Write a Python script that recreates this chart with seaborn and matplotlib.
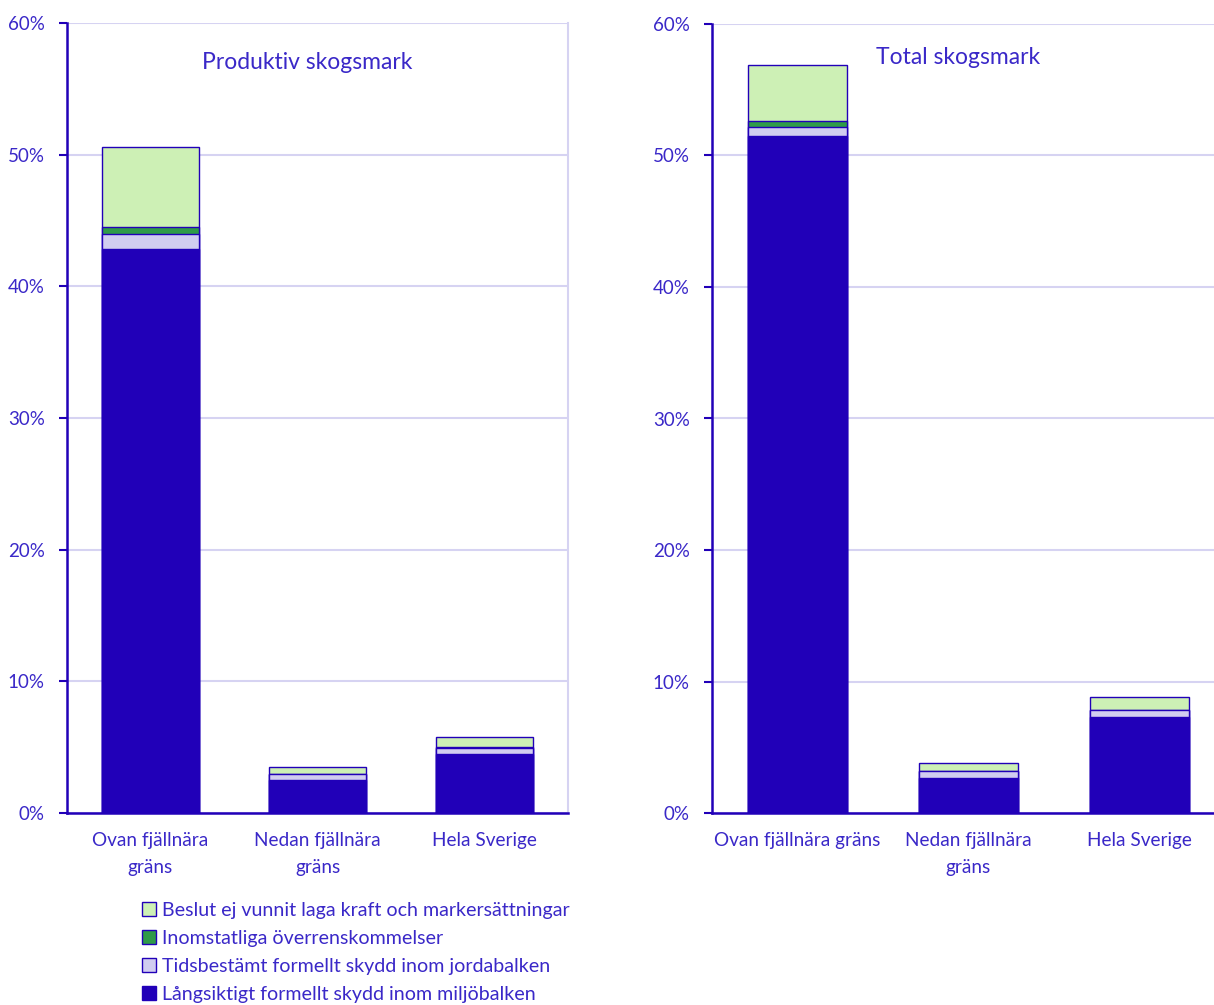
import matplotlib
matplotlib.use("Agg")
import matplotlib.pyplot as plt
import seaborn as sns
import pandas as pd
import numpy as np
from matplotlib.patches import Patch
from matplotlib.ticker import FuncFormatter, FixedLocator

# ---------------- data ----------------
categories = ["Ovan fjällnära gräns", "Nedan fjällnära gräns", "Hela Sverige"]
labels_left = ["Ovan fjällnära\ngräns", "Nedan fjällnära\ngräns", "Hela Sverige"]
labels_right = ["Ovan fjällnära gräns", "Nedan fjällnära\ngräns", "Hela Sverige"]

series_names = [
    "Långsiktigt formellt skydd inom miljöbalken",
    "Tidsbestämt formellt skydd inom jordabalken",
    "Inomstatliga överrenskommelser",
    "Beslut ej vunnit laga kraft och markersättningar",
]

# Produktiv skogsmark (%)
prod_langsiktigt = [42.8, 2.5, 4.5]
prod_tidsbestamt = [1.2, 0.45, 0.45]
prod_inomstatliga = [0.5, 0.03, 0.05]
prod_beslut = [6.1, 0.52, 0.8]

# Total skogsmark (%)
tot_langsiktigt = [51.5, 2.65, 7.3]
tot_tidsbestamt = [0.7, 0.55, 0.5]
tot_inomstatliga = [0.4, 0.03, 0.05]
tot_beslut = [4.3, 0.57, 0.95]

titles = ["Produktiv skogsmark", "Total skogsmark"]
yticks = [0, 10, 20, 30, 40, 50, 60]

# ---------------- style ----------------
TXT = "#3a28c8"
DARK = "#2100b8"
LAV = "#d1cdf0"
LGREEN = "#cdf0b5"
DGREEN = "#2f9b48"
GRID = "#d6d3f2"
colors = [DARK, LAV, DGREEN, LGREEN]

sns.set_style("white")
plt.rcParams["font.family"] = ["Lato", "DejaVu Sans"]
plt.rcParams["text.color"] = TXT

W, H = 1214, 1005
fig = plt.figure(figsize=(W / 100, H / 100), dpi=100)

def fx(px):
    return px / W

def fy(px):
    return 1 - px / H

panels = [
    dict(rect=[fx(67), fy(813), fx(568 - 67), (813 - 23) / H],
         series=[prod_langsiktigt, prod_tidsbestamt, prod_inomstatliga, prod_beslut],
         labels=labels_left, title=titles[0], title_xy=(0.48, 0.95), show_right=True),
    dict(rect=[fx(712), fy(813), fx(513), (813 - 24) / H],
         series=[tot_langsiktigt, tot_tidsbestamt, tot_inomstatliga, tot_beslut],
         labels=labels_right, title=titles[1], title_xy=(0.48, 0.958), show_right=False),
]

for p in panels:
    ax = fig.add_axes(p["rect"])
    vals = np.array(p["series"])
    cum = np.cumsum(vals, axis=0)
    # draw from the top cumulative down so each segment shows
    for i in range(len(series_names) - 1, -1, -1):
        df = pd.DataFrame({"cat": categories, "val": cum[i]})
        sns.barplot(data=df, x="cat", y="val", order=categories, color=colors[i],
                    saturation=1, width=0.575, edgecolor=DARK, linewidth=1.0,
                    ax=ax, zorder=3)
    ax.set_xlim(-0.5, 2.5)
    ax.set_ylim(0, 60)
    ax.set_xlabel("")
    ax.set_ylabel("")
    ax.yaxis.set_major_locator(FixedLocator(yticks))
    ax.yaxis.set_major_formatter(FuncFormatter(lambda v, _: f"{int(v)}%"))
    ax.grid(axis="y", color=GRID, linewidth=1.5, zorder=0)
    ax.grid(axis="x", visible=False)
    ax.set_axisbelow(True)
    ax.set_xticks([0, 1, 2])
    ax.set_xticklabels(p["labels"], fontsize=13.7, color=TXT, linespacing=1.65)
    ax.set_xticks([0.5, 1.5, 2.5], minor=True)
    ax.tick_params(axis="x", which="major", length=0, pad=14)
    ax.tick_params(axis="x", which="minor", length=6, width=1.5, color=DARK, direction="out")
    ax.tick_params(axis="y", which="major", length=6, width=1.5, color=DARK,
                   direction="out", pad=10, labelsize=13.5, labelcolor=TXT, left=True)
    for s in ["left", "bottom"]:
        ax.spines[s].set_color(DARK)
        ax.spines[s].set_linewidth(1.8)
    ax.spines["top"].set_visible(False)
    if p["show_right"]:
        ax.spines["right"].set_color(GRID)
        ax.spines["right"].set_linewidth(1.5)
    else:
        ax.spines["right"].set_visible(False)
    ax.text(p["title_xy"][0], p["title_xy"][1], p["title"], transform=ax.transAxes,
            ha="center", va="center", fontsize=16.5, color=TXT)

handles = [Patch(facecolor=colors[i], edgecolor=DARK, linewidth=1.0) for i in range(3, -1, -1)]
leg_labels = [series_names[i] for i in range(3, -1, -1)]
fig.legend(handles, leg_labels, loc="upper left", bbox_to_anchor=(fx(142), fy(902)),
           frameon=False, fontsize=14.1, handlelength=0.7, handleheight=0.7,
           handletextpad=0.3, labelspacing=0.56, labelcolor=TXT, borderaxespad=0, borderpad=0)

fig.savefig("out.png", dpi=100)
